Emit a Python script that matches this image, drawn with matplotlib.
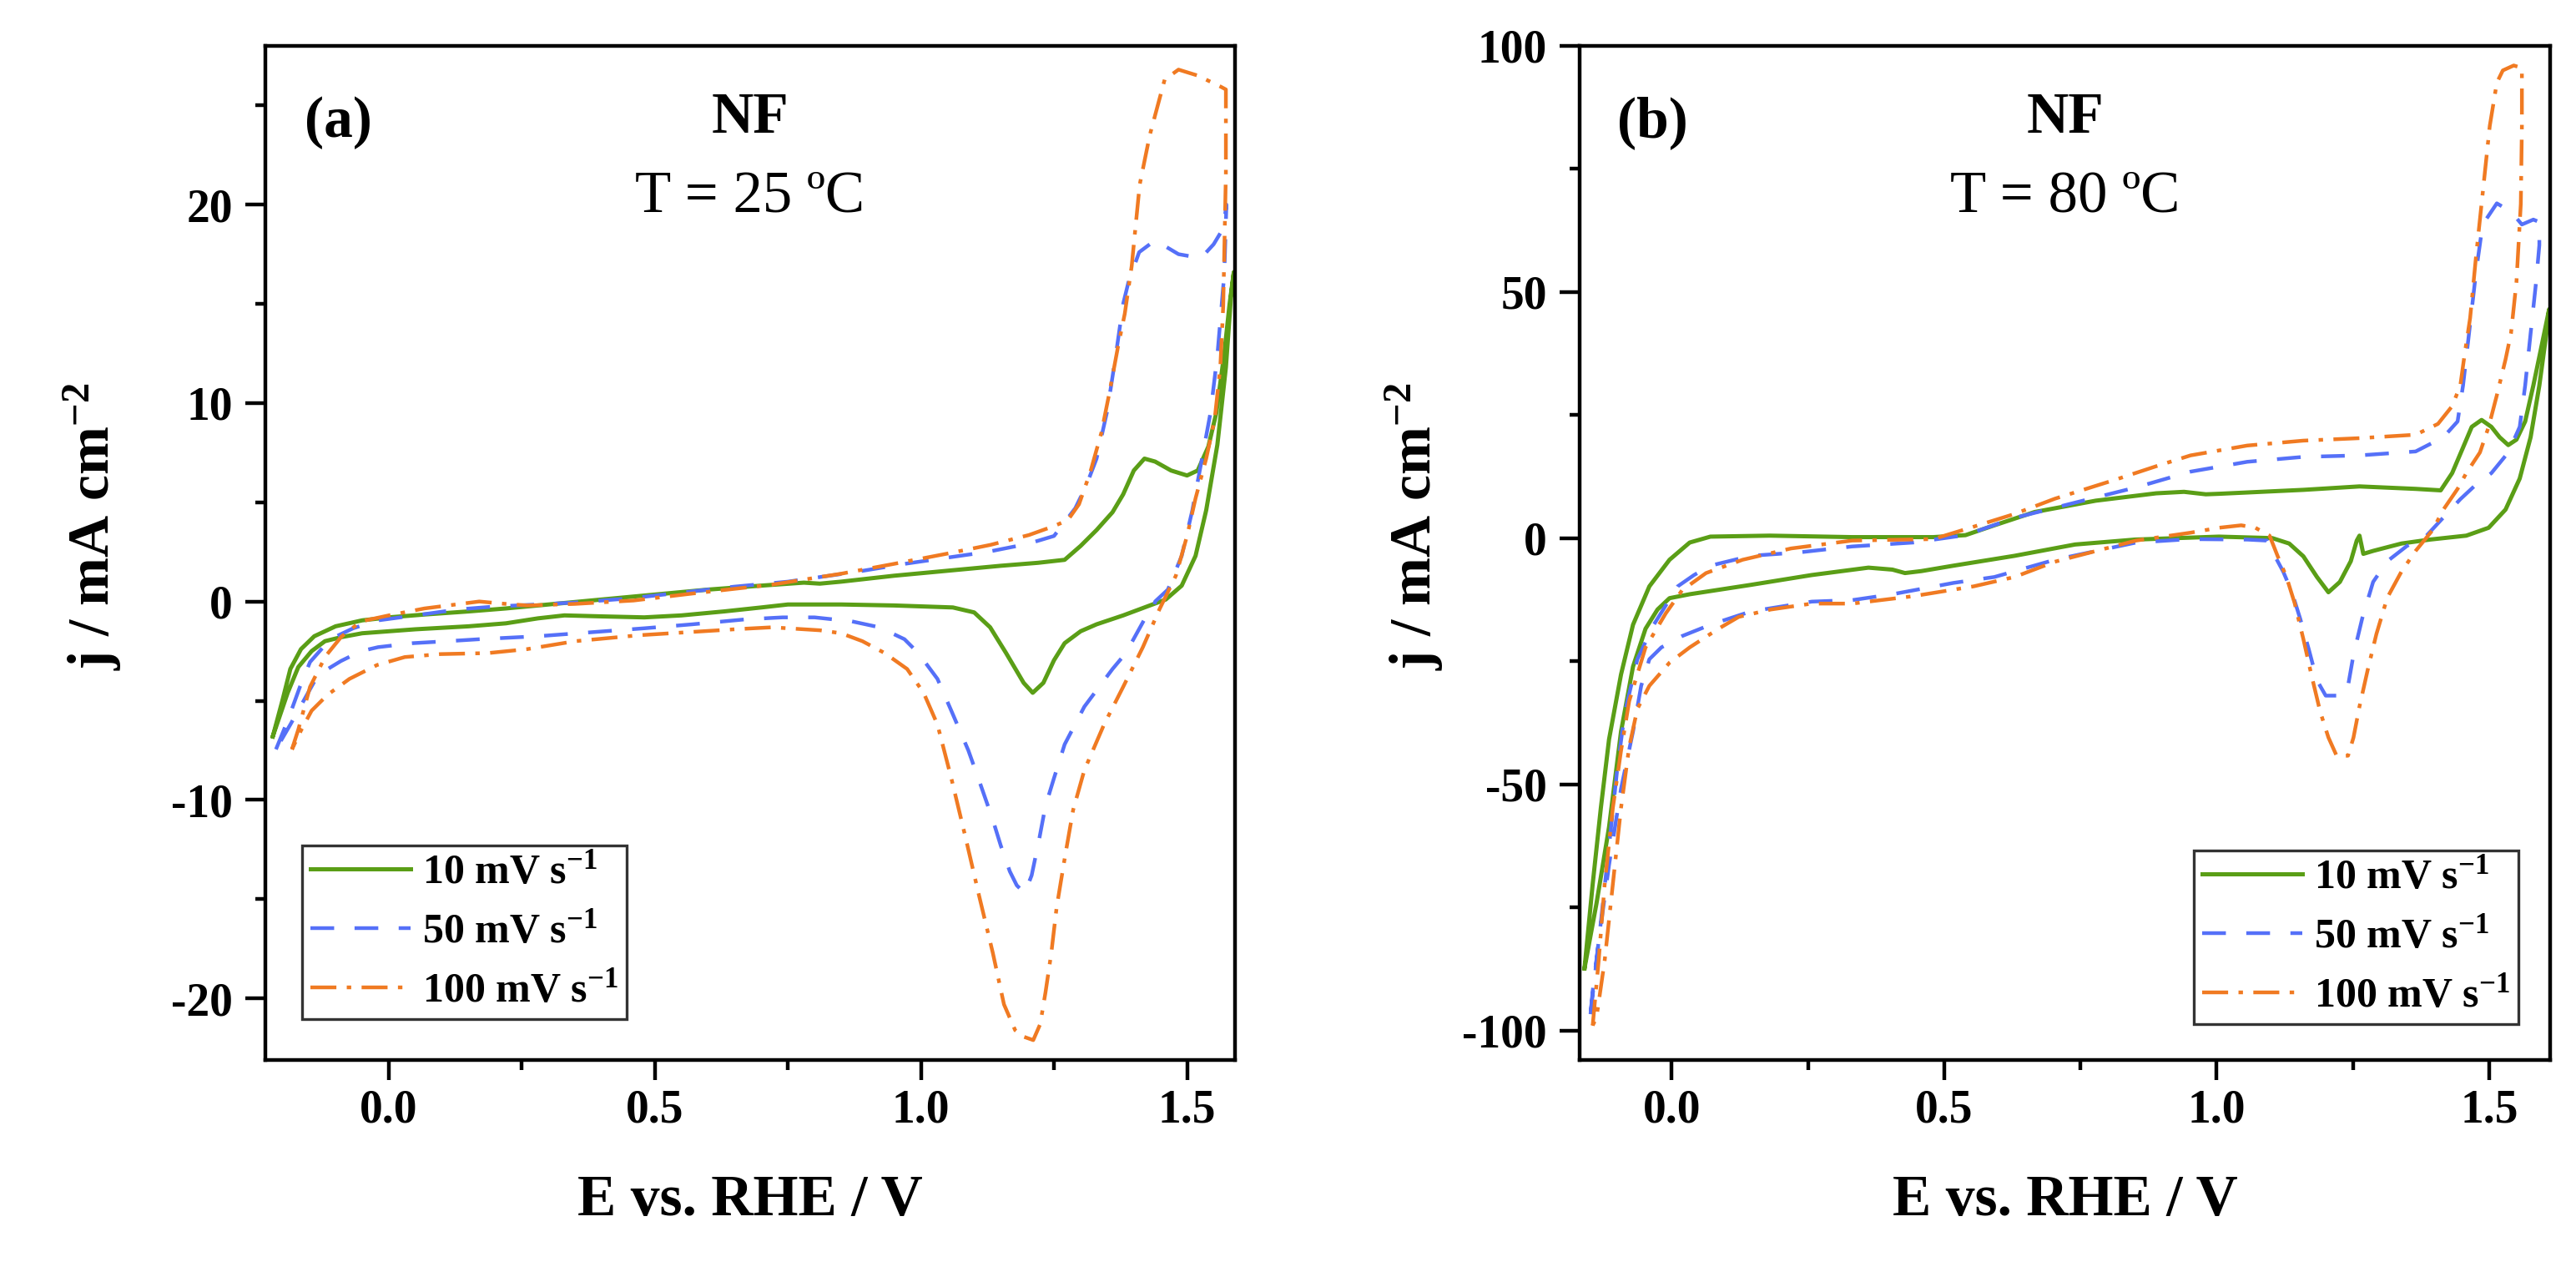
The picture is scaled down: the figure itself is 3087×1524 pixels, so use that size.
import matplotlib
matplotlib.use("Agg")
import matplotlib.pyplot as plt
from matplotlib.ticker import MultipleLocator, FormatStrFormatter

# ---------------- data ----------------
labels = ["10 mV s$^{-1}$", "50 mV s$^{-1}$", "100 mV s$^{-1}$"]

# Panel (a): T = 25 C
E25_10 = [-0.218, -0.20, -0.185, -0.165, -0.14, -0.10, -0.05, 0.0, 0.07, 0.15, 0.22, 0.30, 0.40, 0.50, 0.60, 0.70, 0.78, 0.81, 0.85, 0.95, 1.05, 1.15, 1.22, 1.27, 1.30, 1.33, 1.36, 1.38, 1.40, 1.42, 1.44, 1.47, 1.50, 1.52, 1.54, 1.555, 1.57, 1.58, 1.588,
          1.583, 1.573, 1.557, 1.536, 1.516, 1.49, 1.46, 1.43, 1.38, 1.33, 1.30, 1.27, 1.25, 1.23, 1.21, 1.193, 1.16, 1.13, 1.10, 1.06, 0.95, 0.85, 0.75, 0.70, 0.63, 0.55, 0.48, 0.40, 0.33, 0.28, 0.22, 0.15, 0.05, -0.05, -0.09, -0.12, -0.145, -0.17, -0.19, -0.218]
J25_10 = [-6.8, -5.0, -3.4, -2.4, -1.75, -1.25, -0.95, -0.8, -0.65, -0.5, -0.35, -0.15, 0.1, 0.35, 0.6, 0.8, 0.95, 0.9, 1.0, 1.3, 1.55, 1.8, 1.95, 2.1, 2.8, 3.6, 4.5, 5.4, 6.6, 7.2, 7.05, 6.6, 6.35, 6.6, 7.8, 9.5, 12.5, 15.0, 16.6,
          15.5, 11.8, 7.9, 4.6, 2.3, 0.8, 0.1, -0.2, -0.7, -1.15, -1.5, -2.1, -2.96, -4.1, -4.6, -4.1, -2.6, -1.3, -0.55, -0.3, -0.2, -0.15, -0.15, -0.3, -0.5, -0.7, -0.8, -0.75, -0.7, -0.85, -1.1, -1.25, -1.4, -1.6, -1.8, -2.0, -2.5, -3.3, -4.6, -6.8]

E25_50 = [-0.212, -0.19, -0.167, -0.148, -0.11, -0.067, -0.02, 0.05, 0.13, 0.20, 0.28, 0.35, 0.45, 0.55, 0.65, 0.75, 0.88, 0.97, 1.047, 1.125, 1.20, 1.25, 1.27, 1.29, 1.31, 1.33, 1.35, 1.365, 1.38, 1.39, 1.41, 1.44, 1.484, 1.526, 1.55, 1.568, 1.574,
          1.570, 1.557, 1.544, 1.526, 1.51, 1.49, 1.464, 1.44, 1.437, 1.42, 1.385, 1.36, 1.307, 1.27, 1.25, 1.234, 1.222, 1.208, 1.195, 1.18, 1.167, 1.15, 1.135, 1.109, 1.089, 1.057, 1.031, 0.995, 0.969, 0.922, 0.87, 0.80, 0.74, 0.67, 0.57, 0.48, 0.38, 0.28, 0.17, 0.11, 0.045, -0.02, -0.052, -0.09, -0.133, -0.16, -0.185, -0.212]
J25_50 = [-7.45, -6.0, -4.3, -3.05, -1.9, -1.35, -0.95, -0.7, -0.4, -0.25, -0.15, -0.05, 0.15, 0.45, 0.75, 1.0, 1.5, 1.9, 2.2, 2.5, 2.9, 3.3, 4.0, 4.7, 5.8, 7.2, 9.6, 12.2, 15.0, 16.1, 17.6, 18.2, 17.5, 17.3, 18.0, 18.8, 20.0,
          16.5, 12.4, 9.5, 6.9, 4.6, 2.3, 0.6, 0.0, -0.4, -0.9, -2.6, -3.4, -5.3, -7.2, -8.9, -10.3, -12.0, -13.8, -14.7, -14.3, -13.6, -12.3, -11.0, -9.0, -7.5, -5.5, -3.9, -2.6, -1.9, -1.3, -1.0, -0.8, -0.8, -0.9, -1.15, -1.35, -1.55, -1.75, -1.9, -2.0, -2.1, -2.3, -2.5, -3.0, -3.7, -5.0, -6.2, -7.45]

E25_100 = [-0.182, -0.17, -0.148, -0.119, -0.089, -0.052, 0.0, 0.067, 0.126, 0.17, 0.21, 0.26, 0.35, 0.46, 0.57, 0.72, 0.85, 0.95, 1.047, 1.13, 1.203, 1.25, 1.276, 1.297, 1.318, 1.339, 1.354, 1.37, 1.383, 1.396, 1.411, 1.43, 1.458, 1.484, 1.52, 1.5625, 1.573,
           1.573, 1.568, 1.5625, 1.552, 1.536, 1.516, 1.50, 1.479, 1.448, 1.417, 1.38, 1.344, 1.307, 1.286, 1.271, 1.255, 1.245, 1.234, 1.224, 1.211, 1.19, 1.177, 1.156, 1.135, 1.109, 1.083, 1.057, 1.031, 1.005, 0.974, 0.932, 0.89, 0.85, 0.81, 0.72, 0.65, 0.59, 0.47, 0.35, 0.26, 0.186, 0.097, 0.03, -0.022, -0.074, -0.115, -0.145, -0.165, -0.182]
J25_100 = [-7.45, -6.45, -4.3, -2.76, -1.77, -1.0, -0.7, -0.35, -0.15, 0.0, -0.1, -0.2, -0.12, 0.05, 0.4, 0.85, 1.4, 1.9, 2.4, 2.85, 3.35, 3.8, 4.1, 4.9, 6.5, 8.5, 10.5, 12.8, 14.5, 16.9, 21.0, 23.5, 26.3, 26.8, 26.5, 25.95, 25.8,
           21.6, 14.9, 11.8, 9.2, 7.2, 5.2, 3.3, 1.3, -0.4, -2.3, -4.3, -6.2, -8.5, -10.5, -12.8, -15.4, -17.7, -19.7, -21.3, -22.1, -21.9, -21.6, -20.3, -17.7, -14.8, -11.8, -8.9, -6.2, -4.6, -3.4, -2.6, -2.0, -1.6, -1.45, -1.3, -1.4, -1.5, -1.7, -2.0, -2.4, -2.6, -2.65, -2.8, -3.2, -3.9, -4.7, -5.5, -6.5, -7.45]

# Panel (b): T = 80 C
E80_10 = [-0.16, -0.145, -0.13, -0.115, -0.093, -0.071, -0.041, -0.004, 0.033, 0.071, 0.18, 0.33, 0.48, 0.539, 0.592, 0.666, 0.778, 0.889, 0.94, 0.98, 1.004, 1.159, 1.262, 1.365, 1.411, 1.432, 1.452, 1.468, 1.486, 1.504, 1.519, 1.535, 1.55, 1.566, 1.581, 1.597, 1.61,
          1.605, 1.592, 1.576, 1.556, 1.53, 1.499, 1.458, 1.391, 1.339, 1.287, 1.269, 1.262, 1.257, 1.246, 1.226, 1.205, 1.184, 1.159, 1.133, 1.102, 1.004, 0.85, 0.74, 0.629, 0.517, 0.458, 0.428, 0.405, 0.361, 0.257, 0.145, 0.033, -0.004, -0.026, -0.048, -0.071, -0.093, -0.115, -0.138, -0.16]
J80_10 = [-87.4, -70.3, -54.8, -40.9, -27.7, -17.6, -9.8, -4.4, -0.9, 0.3, 0.5, 0.2, 0.2, 0.6, 2.6, 5.3, 7.6, 9.1, 9.4, 8.9, 9.0, 9.8, 10.5, 10.0, 9.7, 13.2, 18.4, 22.6, 24.0, 22.6, 20.5, 18.9, 20.0, 23.7, 31.0, 39.5, 46.5,
          41.6, 31.0, 20.5, 12.1, 5.8, 2.1, 0.5, -0.3, -1.1, -2.6, -3.2, 0.5, -0.5, -4.7, -8.9, -11.0, -7.9, -3.7, -1.1, 0.0, 0.3, -0.3, -1.3, -3.6, -5.6, -6.7, -7.1, -6.4, -6.0, -7.5, -9.5, -11.4, -12.2, -14.5, -18.4, -26.1, -39.3, -58.7, -74.2, -87.4]

E80_50 = [-0.149, -0.13, -0.115, -0.1, -0.086, -0.063, -0.033, -0.011, 0.011, 0.041, 0.071, 0.145, 0.234, 0.331, 0.443, 0.539, 0.629, 0.74, 0.852, 0.952, 1.056, 1.159, 1.262, 1.365, 1.416, 1.442, 1.452, 1.463, 1.476, 1.488, 1.514, 1.54, 1.56, 1.581, 1.592,
          1.592, 1.586, 1.576, 1.566, 1.556, 1.535, 1.504, 1.478, 1.447, 1.416, 1.385, 1.349, 1.313, 1.287, 1.267, 1.251, 1.241, 1.231, 1.2, 1.184, 1.169, 1.153, 1.138, 1.122, 1.107, 1.092, 1.056, 0.952, 0.852, 0.703, 0.592, 0.517, 0.405, 0.331, 0.257, 0.145, 0.071, 0.019, -0.019, -0.041, -0.056, -0.071, -0.093, -0.115, -0.134, -0.145, -0.149]
J80_50 = [-96.7, -78.0, -62.6, -47.0, -35.4, -24.6, -17.6, -13.7, -9.8, -7.5, -5.6, -3.6, -2.9, -1.7, -0.9, 0.6, 4.1, 7.2, 10.3, 13.5, 15.5, 16.5, 16.8, 17.6, 20.5, 23.7, 31.0, 41.6, 54.2, 63.7, 68.0, 66.3, 63.7, 64.7, 64.2,
          59.5, 52.0, 41.6, 31.0, 22.6, 17.4, 13.2, 11.1, 7.9, 4.2, 0.5, -1.6, -4.7, -8.9, -16.3, -23.7, -30.0, -32.0, -32.0, -28.9, -22.6, -16.3, -11.0, -6.8, -3.7, -0.5, -0.3, -0.2, -0.9, -4.4, -7.9, -9.1, -11.4, -12.6, -12.9, -14.9, -17.6, -19.9, -22.2, -24.6, -30.0, -39.3, -50.9, -66.4, -81.9, -92.0, -96.7]

E80_100 = [-0.145, -0.134, -0.123, -0.108, -0.093, -0.078, -0.048, -0.011, 0.019, 0.063, 0.13, 0.219, 0.331, 0.48, 0.539, 0.629, 0.703, 0.815, 0.889, 0.952, 1.056, 1.159, 1.262, 1.365, 1.406, 1.432, 1.447, 1.455, 1.465, 1.476, 1.488, 1.501, 1.514, 1.525, 1.545, 1.56,
           1.56, 1.558, 1.55, 1.54, 1.53, 1.514, 1.499, 1.483, 1.458, 1.442, 1.416, 1.396, 1.365, 1.339, 1.313, 1.293, 1.277, 1.262, 1.251, 1.241, 1.22, 1.205, 1.19, 1.174, 1.159, 1.143, 1.128, 1.112, 1.097, 1.071, 1.045, 1.004, 0.952, 0.852, 0.703, 0.629, 0.554, 0.443, 0.331, 0.257, 0.182, 0.123, 0.086, 0.033, -0.004, -0.041, -0.063, -0.078, -0.093, -0.108, -0.123, -0.138, -0.145]
J80_100 = [-99.0, -85.8, -70.3, -54.8, -43.2, -33.1, -22.2, -15.3, -10.6, -7.1, -4.4, -2.1, -0.5, -0.2, 1.8, 4.9, 8.0, 11.9, 14.6, 16.8, 18.8, 19.8, 20.3, 21.0, 23.2, 26.8, 31.0, 37.4, 44.7, 57.4, 70.0, 83.7, 92.5, 95.0, 96.0, 95.5,
           83.7, 67.9, 52.0, 41.6, 36.3, 29.0, 22.6, 17.4, 13.2, 10.0, 5.8, 1.6, -2.6, -6.8, -12.1, -19.5, -26.8, -34.2, -40.5, -44.2, -44.2, -40.5, -35.3, -27.9, -20.5, -13.2, -7.9, -3.7, 0.5, 2.1, 2.6, 2.1, 1.1, -0.5, -4.8, -7.9, -9.8, -11.8, -13.3, -13.3, -14.5, -16.0, -18.4, -22.2, -25.3, -30.0, -34.7, -42.4, -54.8, -70.3, -85.8, -97.4, -99.0]

# ---------------- style ----------------
plt.rcParams['font.family'] = ['Liberation Serif', 'DejaVu Serif']
plt.rcParams['mathtext.fontset'] = 'custom'
plt.rcParams['mathtext.rm'] = 'Liberation Serif:bold'
plt.rcParams['mathtext.bf'] = 'Liberation Serif:bold'
plt.rcParams['mathtext.it'] = 'Liberation Serif:bold'
plt.rcParams['mathtext.default'] = 'regular'
plt.rcParams['axes.unicode_minus'] = False

GREEN = '#5a9e16'
BLUE = '#5570f8'
ORANGE = '#f07a22'
LW = 1.6
styles = [dict(color=GREEN, lw=LW + 0.2, ls='-'),
          dict(color=BLUE, lw=LW, ls=(0, (6.4, 5.5))),
          dict(color=ORANGE, lw=LW, ls=(0, (7, 2.8, 1.2, 2.8)))]

fig = plt.figure(figsize=(15.435, 7.62), dpi=200)
axA = fig.add_axes([0.103, 0.1667, 0.3764, 0.7973])
axB = fig.add_axes([0.6132, 0.1667, 0.3768, 0.7973])

panels = [
    (axA, [(E25_10, J25_10), (E25_50, J25_50), (E25_100, J25_100)], "(a)", "T = 25 \u00baC",
     (-0.232, 1.59), (-23.1, 28.0), 10, 5, 'lower left', (0.038, 0.040), -0.178),
    (axB, [(E80_10, J80_10), (E80_50, J80_50), (E80_100, J80_100)], "(b)", "T = 80 \u00baC",
     (-0.169, 1.612), (-106, 100), 50, 25, 'lower right', (0.967, 0.035), -0.170),
]

for ax, curves, tag, temp, xl, yl, ymaj, ymin, lloc, anchor, ylab_x in panels:
    for (E, J), st, lab in zip(curves, styles, labels):
        ax.plot(E, J, label=lab, solid_joinstyle='round', **st)
    ax.set_xlim(*xl)
    ax.set_ylim(*yl)
    ax.xaxis.set_major_locator(MultipleLocator(0.5))
    ax.xaxis.set_minor_locator(MultipleLocator(0.25))
    ax.yaxis.set_major_locator(MultipleLocator(ymaj))
    ax.yaxis.set_minor_locator(MultipleLocator(ymin))
    ax.xaxis.set_major_formatter(FormatStrFormatter('%.1f'))
    ax.tick_params(which='both', direction='out', top=False, right=False, width=1.6)
    ax.tick_params(which='major', length=8.6, labelsize=20)
    ax.tick_params(axis='y', which='major', pad=5.5)
    ax.tick_params(axis='x', which='major', pad=4)
    ax.tick_params(which='minor', length=4.3)
    for lab_ in ax.get_xticklabels() + ax.get_yticklabels():
        lab_.set_fontweight('bold')
    for sp in ax.spines.values():
        sp.set_linewidth(1.6)
    ax.set_xlabel('E vs. RHE / V', fontsize=25, fontweight='bold', va='center')
    ax.xaxis.set_label_coords(0.5, -0.139)
    ax.set_ylabel('j / mA cm$^{-2}$', fontsize=25, fontweight='bold', va='center')
    ax.yaxis.set_label_coords(ylab_x, 0.526)
    ax.text(0.075, 0.924, tag, transform=ax.transAxes, fontsize=25, fontweight='bold',
            ha='center', va='center')
    ax.text(0.5, 0.928, 'NF', transform=ax.transAxes, fontsize=25, fontweight='bold',
            ha='center', va='center')
    ax.text(0.5, 0.851, temp, transform=ax.transAxes, fontsize=25.5,
            ha='center', va='center')
    leg = ax.legend(loc=lloc, bbox_to_anchor=anchor, frameon=True, fancybox=False,
                    edgecolor='#333333', framealpha=1, fontsize=18, handlelength=2.4,
                    handletextpad=0.28, borderpad=0.2, labelspacing=0.5, borderaxespad=0)
    leg.get_frame().set_linewidth(1.2)
    for t in leg.get_texts():
        t.set_fontweight('bold')

fig.savefig('out.png', dpi=200)
